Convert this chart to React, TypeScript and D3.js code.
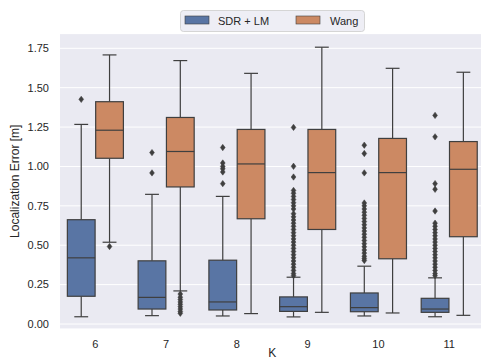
import React from "react";
import * as d3 from "d3";

const ks = ["6", "7", "8", "9", "10", "11"];
const seriesNames = ["SDR + LM", "Wang"];
const yTicks = [0, 0.25, 0.5, 0.75, 1.0, 1.25, 1.5, 1.75];

// SDR + LM box statistics per K
const sdrLow = [0.046, 0.053, 0.051, 0.045, 0.051, 0.046];
const sdrQ1 = [0.176, 0.095, 0.089, 0.08, 0.078, 0.074];
const sdrMed = [0.42, 0.169, 0.14, 0.11, 0.104, 0.095];
const sdrQ3 = [0.662, 0.401, 0.405, 0.172, 0.197, 0.163];
const sdrHigh = [1.267, 0.823, 0.81, 0.297, 0.367, 0.293];
const sdrOut = [
  [1.426],
  [1.088, 0.959],
  [1.12, 1.022, 1.0, 0.985, 0.965, 0.891],
  [1.248, 1.001, 0.933, 0.848, 0.83, 0.81, 0.79, 0.77, 0.75, 0.73, 0.7, 0.68, 0.66, 0.64, 0.62, 0.6, 0.58, 0.56, 0.54, 0.52, 0.5, 0.48, 0.46, 0.44, 0.42, 0.4, 0.38, 0.36, 0.34, 0.32, 0.307],
  [1.135, 1.082, 0.959, 0.768, 0.75, 0.73, 0.71, 0.69, 0.67, 0.65, 0.63, 0.61, 0.59, 0.57, 0.55, 0.53, 0.51, 0.49, 0.47, 0.45, 0.43, 0.415, 0.403],
  [1.324, 1.188, 0.891, 0.855, 0.717, 0.64, 0.62, 0.6, 0.58, 0.56, 0.54, 0.52, 0.5, 0.48, 0.46, 0.44, 0.42, 0.4, 0.38, 0.36, 0.34, 0.32, 0.307],
];

// Wang box statistics per K
const wangLow = [0.519, 0.21, 0.066, 0.074, 0.07, 0.055];
const wangQ1 = [1.052, 0.87, 0.668, 0.6, 0.414, 0.554];
const wangMed = [1.23, 1.095, 1.016, 0.961, 0.961, 0.982];
const wangQ3 = [1.411, 1.311, 1.235, 1.235, 1.178, 1.158];
const wangHigh = [1.708, 1.672, 1.591, 1.757, 1.623, 1.598];
const wangOut = [
  [0.492],
  [0.19, 0.17, 0.155, 0.14, 0.125, 0.11, 0.095, 0.08, 0.068],
  [],
  [],
  [],
  [],
];

const colors = ["#5975a4", "#cc8963"];
const edge = "#3f3f3f";
const W = 481;
const H = 363;
const left = 60;
const right = 484.6;
const font = "'Liberation Sans', Arial, sans-serif";

type Box = { low: number; q1: number; med: number; q3: number; high: number; out: number[] };

const series: Box[][] = [
  ks.map((_, i) => ({ low: sdrLow[i], q1: sdrQ1[i], med: sdrMed[i], q3: sdrQ3[i], high: sdrHigh[i], out: sdrOut[i] })),
  ks.map((_, i) => ({ low: wangLow[i], q1: wangQ1[i], med: wangMed[i], q3: wangQ3[i], high: wangHigh[i], out: wangOut[i] })),
];

export default function App() {
  const x = d3.scaleBand<string>().domain(ks).range([left, right]).padding(0);
  const y = d3.scaleLinear().domain([0, 1.75]).range([324, 48.3]);
  const inner = d3
    .scaleBand<string>()
    .domain(seriesNames)
    .range([0, x.bandwidth() * 0.8]);
  const boxW = inner.bandwidth() * 0.98;
  const top = y(1.84);
  const bottom = y(-0.028);

  const diamond = (cx: number, cy: number) =>
    `M${cx},${cy - 3.2} L${cx + 2.4},${cy} L${cx},${cy + 3.2} L${cx - 2.4},${cy} Z`;

  return (
    <svg width={W} height={H} style={{ position: "absolute", left: 0, top: 0 }} fontFamily={font}>
      <rect x={0} y={0} width={W} height={H} fill="#ffffff" />
      <rect x={left} y={top} width={right - left} height={bottom - top} fill="#eaeaf2" />
      {yTicks.map((t) => (
        <g key={t}>
          <line x1={left} x2={right} y1={y(t)} y2={y(t)} stroke="#ffffff" strokeWidth={1} />
          <text x={49} y={y(t)} dy="0.35em" textAnchor="end" fontSize={11} fill="#262626">
            {t.toFixed(2)}
          </text>
        </g>
      ))}
      {ks.map((k) => (
        <text key={k} x={(x(k) ?? 0) + x.bandwidth() / 2} y={348} textAnchor="middle" fontSize={11} fill="#262626">
          {k}
        </text>
      ))}
      <text x={(left + right) / 2} y={356.5} textAnchor="middle" fontSize={12} fill="#262626">
        K
      </text>
      <text
        transform={`translate(19,${(top + bottom) / 2}) rotate(-90)`}
        textAnchor="middle"
        fontSize={12}
        fill="#262626"
      >
        Localization Error [m]
      </text>

      {series.map((boxes, si) =>
        boxes.map((b, ki) => {
          const cx =
            (x(ks[ki]) ?? 0) + x.bandwidth() * 0.1 + (inner(seriesNames[si]) ?? 0) + inner.bandwidth() / 2;
          const hw = boxW / 2;
          const cap = boxW / 4;
          return (
            <g key={`${si}-${ki}`}>
              <line x1={cx} x2={cx} y1={y(b.q3)} y2={y(b.high)} stroke={edge} strokeWidth={1.2} />
              <line x1={cx} x2={cx} y1={y(b.q1)} y2={y(b.low)} stroke={edge} strokeWidth={1.2} />
              <line x1={cx - cap} x2={cx + cap} y1={y(b.high)} y2={y(b.high)} stroke={edge} strokeWidth={1.2} />
              <line x1={cx - cap} x2={cx + cap} y1={y(b.low)} y2={y(b.low)} stroke={edge} strokeWidth={1.2} />
              <rect
                x={cx - hw}
                y={y(b.q3)}
                width={boxW}
                height={y(b.q1) - y(b.q3)}
                fill={colors[si]}
                stroke={edge}
                strokeWidth={1.2}
              />
              <line x1={cx - hw} x2={cx + hw} y1={y(b.med)} y2={y(b.med)} stroke={edge} strokeWidth={1.2} />
              {b.out.map((o, oi) => (
                <path key={oi} d={diamond(cx, y(o))} fill={edge} stroke={edge} strokeWidth={0.5} />
              ))}
            </g>
          );
        })
      )}

      <g>
        <rect x={180.5} y={10.5} width={184} height={21} rx={3} fill="#eaeaf2" fillOpacity={0.8} stroke="#cccccc" strokeWidth={0.8} />
        <rect x={185} y={16} width={24} height={8} fill={colors[0]} stroke={edge} strokeWidth={0.6} />
        <text x={218} y={24.5} fontSize={11} fill="#262626">
          {seriesNames[0]}
        </text>
        <rect x={296} y={16} width={24} height={8} fill={colors[1]} stroke={edge} strokeWidth={0.6} />
        <text x={330} y={24.5} fontSize={11} fill="#262626">
          {seriesNames[1]}
        </text>
      </g>
    </svg>
  );
}
